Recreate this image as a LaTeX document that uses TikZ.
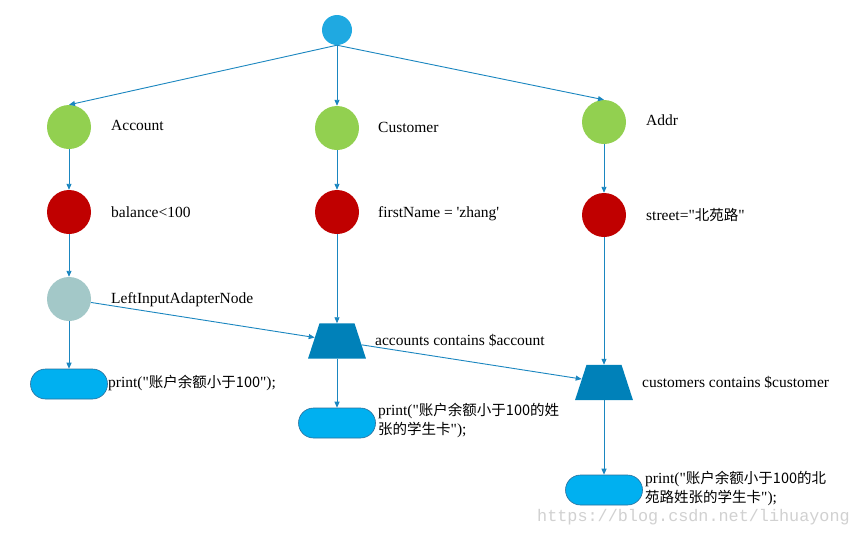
\documentclass[tikz,border=0pt]{standalone}
\usepackage{fontspec}
\setmainfont{Liberation Serif}[Ligatures=TeXOff]
\newfontfamily\cjk{Noto Sans CJK SC}[Ligatures=TeXOff]
\newfontfamily\wmfont{Liberation Mono}[Ligatures=TeXOff]
\usetikzlibrary{arrows.meta,shapes.geometric,shapes.misc}
\newcommand\zhtext[1]{{\cjk\fontsize{14.5pt}{19pt}\selectfont #1}}
\definecolor{rootc}{HTML}{1FA9E1}
\definecolor{greenc}{HTML}{92D050}
\definecolor{redc}{HTML}{C00000}
\definecolor{liac}{HTML}{A3C8C8}
\definecolor{trapc}{HTML}{0081B9}
\definecolor{pillc}{HTML}{00B0F0}
\definecolor{pilld}{HTML}{2A6F9B}
\definecolor{linec}{HTML}{1A86C0}
\tikzset{
  rootnode/.style={circle,fill=rootc,minimum size=30pt,inner sep=0pt},
  typenode/.style={circle,fill=greenc,minimum size=44pt,inner sep=0pt},
  alphanode/.style={circle,fill=redc,minimum size=44pt,inner sep=0pt},
  lianode/.style={circle,fill=liac,minimum size=44pt,inner sep=0pt},
  betanode/.style={trapezium,fill=trapc,minimum width=58pt,minimum height=34pt,trapezium left angle=72,trapezium right angle=72,inner sep=1pt},
  termnode/.style={rounded rectangle,fill=pillc,draw=pilld,line width=0.6pt,minimum width=77pt,minimum height=30pt,inner sep=0pt},
  lbl/.style={anchor=west,inner sep=0pt,font=\fontsize{15.5pt}{19pt}\selectfont,align=left},
  conn/.style={draw=linec,line width=0.9pt,-{Triangle[length=6pt,width=5pt]}},
}
\begin{document}
\begin{tikzpicture}[x=1pt,y=-1pt]
\useasboundingbox (0,0) rectangle (858,536);
\fill[white] (0,0) rectangle (858,536);
% nodes
\node[rootnode] (root) at (337,30) {};
\node[typenode] (acc) at (69,127) {};
\node[typenode] (cus) at (337,128) {};
\node[typenode] (addr) at (604,122) {};
\node[alphanode] (bal) at (69,212) {};
\node[alphanode] (fn) at (337,212) {};
\node[alphanode] (st) at (604,215) {};
\node[lianode] (lia) at (69,299) {};
\node[betanode] (b1) at (337,341) {};
\node[betanode] (b2) at (604,382.5) {};
\node[termnode] (t1) at (69,384) {};
\node[termnode] (t2) at (337,423) {};
\node[termnode] (t3) at (604,490) {};
% labels
\node[lbl] (lacc) at (111,125) {Account};
\node[lbl] (lcus) at (378,127) {Customer};
\node[lbl] (laddr) at (646,120) {Addr};
\node[lbl] (lbal) at (111,212) {balance<100};
\node[lbl] (lfn) at (378,214) {firstName = 'zhang'};
\node[lbl] (lst) at (646,215) {street="\zhtext{北苑路}"};
\node[lbl] (llia) at (111,300) {LeftInputAdapterNode};
\node[lbl] (lb1) at (375,340) {accounts contains \$account};
\node[lbl] (lb2) at (642,382) {customers contains \$customer};
\node[lbl] (lt1) at (108,383) {print("\zhtext{账户余额小于100}");};
\node[lbl] (lt2) at (378,420.5) {print("\zhtext{账户余额小于100的姓}\\\zhtext{张的学生卡}");};
\node[lbl] (lt3) at (645,488) {print("\zhtext{账户余额小于100的北}\\\zhtext{苑路姓张的学生卡}");};
\node[anchor=west,inner sep=0pt,text=black!18,font=\wmfont\fontsize{16.8pt}{18pt}\selectfont] (wm) at (537,517) {https://blog.csdn.net/lihuayong};
% connectors
\draw[conn] (root.south) -- (acc.north);
\draw[conn] (root.south) -- (cus.north);
\draw[conn] (root.south) -- (addr.north);
\draw[conn] (acc) -- (bal);
\draw[conn] (bal) -- (lia);
\draw[conn] (lia) -- (t1);
\draw[conn] (cus) -- (fn);
\draw[conn] (fn) -- (b1);
\draw[conn] (b1) -- (t2);
\draw[conn] (addr) -- (st);
\draw[conn] (st) -- (b2);
\draw[conn] (b2) -- (t3);
\draw[conn] (lia) -- (b1);
\draw[conn] (b1) -- (b2);
\end{tikzpicture}
\end{document}
